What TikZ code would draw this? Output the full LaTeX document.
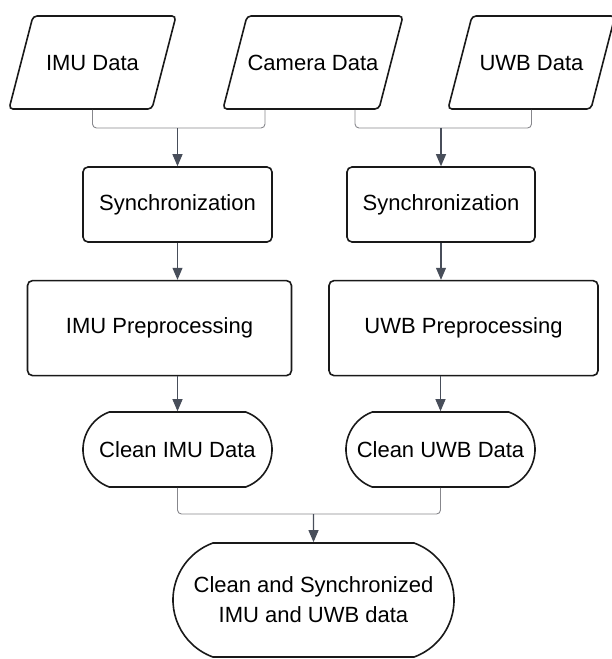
\documentclass[tikz,border=0pt]{standalone}
\usepackage{fontspec}
\setmainfont{Liberation Sans}
\usetikzlibrary{positioning,arrows.meta,shapes.geometric,shapes.misc}
\definecolor{flowgray}{RGB}{72,78,90}
\definecolor{feedgray}{RGB}{135,135,140}
\tikzset{
  indata/.style={trapezium, trapezium left angle=75.5, trapezium right angle=104.5,
                 trapezium stretches body, draw=black!90, line width=1.6pt,
                 rounded corners=4pt, text height=16pt, text depth=0pt,
                 inner xsep=0pt, inner ysep=38.5pt,
                 font=\fontsize{22}{26}\selectfont},
  procbox/.style={rectangle, draw=black!90, line width=1.6pt, rounded corners=5pt,
                  minimum height=75pt, inner sep=0pt, font=\fontsize{22}{26}\selectfont},
  term/.style={rounded rectangle, rounded rectangle arc length=140, draw=black!90,
               line width=1.6pt, minimum height=75pt,
               inner sep=0pt, font=\fontsize{22}{26}\selectfont},
  edge/.style={-{Triangle[length=12pt,width=10pt]}, line width=1.1pt, flowgray},
  feed/.style={line width=0.9pt, feedgray, rounded corners=4pt}
}
\begin{document}
\begin{tikzpicture}[x=1pt, y=1pt, node distance=37pt]
    \clip[use as bounding box] (0,0) rectangle (612,-659);
    \node[indata, minimum width=167pt] (imu) at (92.5,-62.5) {IMU Data};
    \node[indata, minimum width=180pt] (cam) at (313,-62.5) {Camera Data};
    \node[indata, minimum width=167pt] (uwb) at (531.5,-62.5) {UWB Data};
    \node[procbox, minimum width=189pt] (syncimu) at (177.5,-204.5) {Synchronization};
    \node[procbox, minimum width=188pt] (syncuwb) at (441,-204.5) {Synchronization};
    \node[procbox, minimum width=264pt, minimum height=95pt, below=of syncimu, xshift=-18pt] (preimu) {IMU Preprocessing};
    \node[procbox, minimum width=269pt, minimum height=95pt, below=of syncuwb, xshift=22.5pt] (preuwb) {UWB Preprocessing};
    \node[term, minimum width=189pt] (cleanimu) at (177.5,-449.5) {Clean IMU Data};
    \node[term, minimum width=189pt] (cleanuwb) at (440.5,-449.5) {Clean UWB Data};
    \node[term, minimum width=281pt, minimum height=114pt, align=center,
          font=\fontsize{22}{30}\selectfont] (final) at (313.5,-600) {Clean and Synchronized\\IMU and UWB data};
    \coordinate (jleft) at (177.5,-128);
    \coordinate (jright) at (441,-128);
    \coordinate (jbottom) at (313.5,-514);
    \draw[feed] (imu.south) |- (jleft); \draw[feed] ([xshift=-48pt]cam.south) |- (jleft);
    \draw[feed] ([xshift=42pt]cam.south) |- (jright); \draw[feed] (uwb.south) |- (jright);
    \draw[edge] (jleft) -- (syncimu); \draw[edge] (jright) -- (syncuwb);
    \draw[edge] (syncimu.south) -- (syncimu.south |- preimu.north);
    \draw[edge] (syncuwb.south) -- (syncuwb.south |- preuwb.north);
    \draw[edge] (preimu.south -| cleanimu.north) -- (cleanimu.north);
    \draw[edge] (preuwb.south -| cleanuwb.north) -- (cleanuwb.north);
    \draw[feed] (cleanimu.south) |- (jbottom); \draw[feed] (cleanuwb.south) |- (jbottom);
    \draw[edge] (jbottom) -- (final);
  \end{tikzpicture}
\end{document}
